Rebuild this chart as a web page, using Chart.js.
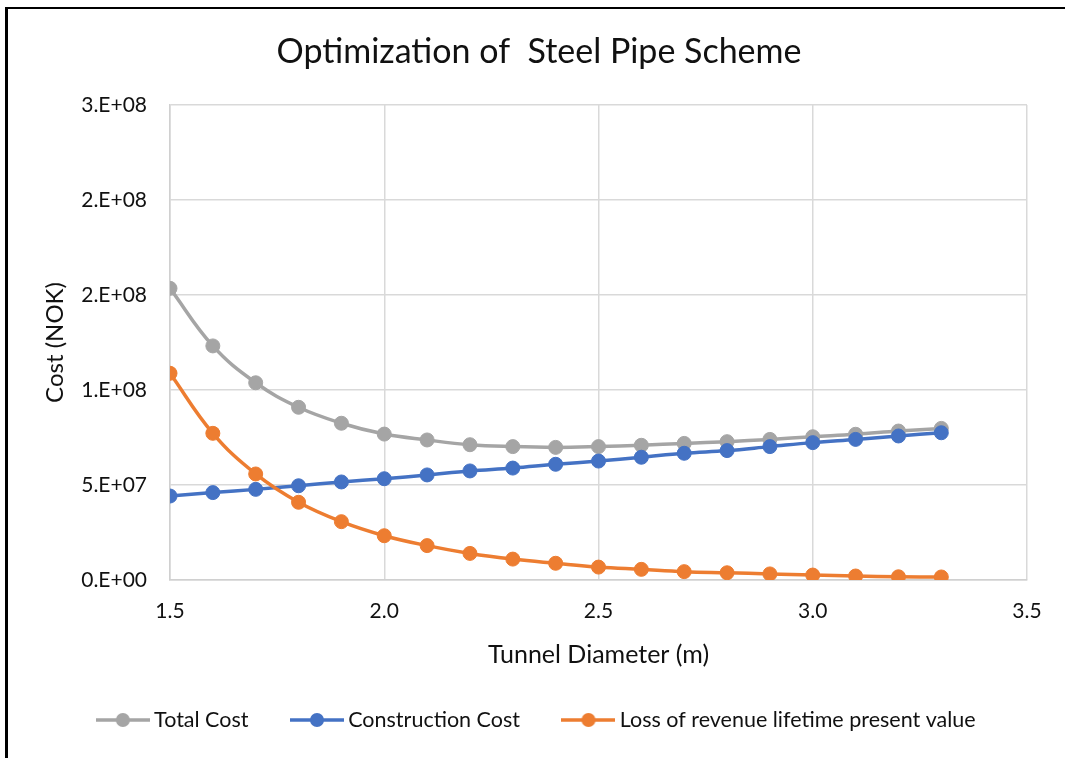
<!DOCTYPE html>
<html>
<head>
<meta charset="utf-8">
<title>Optimization of Steel Pipe Scheme</title>
<script src="https://cdn.jsdelivr.net/npm/chart.js@4.4.1/dist/chart.umd.min.js"></script>
<style>
  html, body { margin: 0; padding: 0; background: #fff; overflow: hidden; }
  #wrap { position: relative; width: 1065px; height: 758px; }
  #frame {
    position: absolute; left: 5px; top: 7px; width: 2000px; height: 2000px;
    border-left: 3px solid #000; border-top: 2px solid #000;
    pointer-events: none;
  }
  canvas { position: absolute; left: 0; top: 0; }
</style>
</head>
<body>
<div id="wrap">
  <canvas id="chart" width="1065" height="758"></canvas>
  <div id="frame"></div>
</div>
<script>
// Tunnel diameter (m) for each evaluated scheme
const diameters = [1.5, 1.6, 1.7, 1.8, 1.9, 2.0, 2.1, 2.2, 2.3, 2.4, 2.5, 2.6, 2.7, 2.8, 2.9, 3.0, 3.1, 3.2, 3.3];

// Costs in NOK
const totalCost = [1.535e8, 1.232e8, 1.038e8, 9.09e7, 8.25e7, 7.68e7, 7.37e7, 7.12e7, 7.02e7, 6.98e7,
                   7.02e7, 7.09e7, 7.19e7, 7.28e7, 7.40e7, 7.54e7, 7.67e7, 7.84e7, 7.98e7];
const constructionCost = [4.42e7, 4.60e7, 4.77e7, 4.96e7, 5.16e7, 5.33e7, 5.53e7, 5.74e7, 5.89e7, 6.09e7,
                          6.26e7, 6.46e7, 6.67e7, 6.81e7, 7.02e7, 7.23e7, 7.40e7, 7.58e7, 7.75e7];
const revenueLoss = [1.088e8, 7.72e7, 5.58e7, 4.09e7, 3.07e7, 2.33e7, 1.81e7, 1.40e7, 1.10e7, 8.8e6,
                     6.8e6, 5.6e6, 4.4e6, 3.8e6, 3.2e6, 2.6e6, 2.1e6, 1.7e6, 1.6e6];

// Axis tick labels (Excel "0.E+00" style)
const xTickLabels = ['1.5', '2.0', '2.5', '3.0', '3.5'];
const yTickLabels = ['0.E+00', '5.E+07', '1.E+08', '2.E+08', '2.E+08', '3.E+08'];

const seriesNames = ['Total Cost', 'Construction Cost', 'Loss of revenue lifetime present value'];
const seriesColors = ['#A5A5A5', '#4472C4', '#ED7D31'];

const FONT = 'Lato, "Open Sans", "Noto Sans", sans-serif';
const TEXT = '#111';

// Legend swatch: a short line with a round marker in the middle
function legendSwatch(color) {
  const c = document.createElement('canvas');
  c.width = 54; c.height = 16;
  const g = c.getContext('2d');
  g.strokeStyle = color; g.lineWidth = 3.5;
  g.beginPath(); g.moveTo(0, 8); g.lineTo(54, 8); g.stroke();
  g.fillStyle = color;
  g.beginPath(); g.arc(27, 8, 7, 0, Math.PI * 2); g.fill();
  return c;
}

function series(values, i, order) {
  return {
    label: seriesNames[i],
    data: diameters.map((d, k) => ({ x: d, y: values[k] })),
    borderColor: seriesColors[i],
    backgroundColor: seriesColors[i],
    pointBackgroundColor: seriesColors[i],
    pointBorderColor: seriesColors[i],
    pointStyle: 'circle',
    borderWidth: 3.5,
    pointRadius: 7,
    pointHoverRadius: 7,
    pointBorderWidth: 1,
    tension: 0.4,
    order: order
  };
}

// later series are drawn on top (lower order = drawn last)
const totalDs = series(totalCost, 0, 3);
const constructionDs = series(constructionCost, 1, 2);
const lossDs = series(revenueLoss, 2, 1);

Chart.defaults.font.family = FONT;
Chart.defaults.color = TEXT;

new Chart(document.getElementById('chart'), {
  type: 'line',
  data: { datasets: [totalDs, constructionDs, lossDs] },
  options: {
    responsive: false,
    animation: false,
    events: [],
    layout: { padding: { left: 51, right: 38, top: 0, bottom: 17.25 } },
    plugins: {
      title: {
        display: true,
        text: 'Optimization of  Steel Pipe Scheme',
        color: TEXT,
        font: { size: 34, weight: 'normal', family: FONT },
        padding: { top: 31.8, bottom: 32.4 }
      },
      legend: {
        position: 'bottom',
        labels: {
          color: TEXT,
          font: { size: 21.5, family: FONT },
          usePointStyle: true,
          pointStyleWidth: 41,
          padding: 48,
          generateLabels: (chart) => chart.data.datasets.map((ds, i) => ({
            text: ds.label,
            datasetIndex: i,
            pointStyle: legendSwatch(seriesColors[i]),
            fillStyle: seriesColors[i],
            strokeStyle: seriesColors[i],
            lineWidth: 0,
            hidden: false,
            fontColor: TEXT
          }))
        }
      },
      tooltip: { enabled: false }
    },
    scales: {
      x: {
        type: 'linear',
        min: 1.5, max: 3.5,
        ticks: {
          stepSize: 0.5,
          padding: 19,
          color: TEXT,
          font: { size: 21, family: FONT },
          callback: (v, i) => xTickLabels[i]
        },
        grid: { color: '#D9D9D9', lineWidth: 1.5, drawTicks: false },
        border: { color: '#D0D0D0', width: 1.5 },
        title: {
          display: true,
          text: 'Tunnel Diameter (m)',
          color: TEXT,
          font: { size: 25, family: FONT },
          padding: { top: 0, bottom: -8.75 }
        },
        afterFit: (s) => { s.height = 81.25; }
      },
      y: {
        min: 0, max: 2.5e8,
        ticks: {
          stepSize: 5e7,
          padding: 23,
          color: TEXT,
          font: { size: 21, family: FONT },
          callback: (v, i) => yTickLabels[i]
        },
        grid: { color: '#D9D9D9', lineWidth: 1.5, drawTicks: false },
        border: { color: '#D0D0D0', width: 1.5 },
        title: {
          display: true,
          text: 'Cost (NOK)',
          color: TEXT,
          font: { size: 24, family: FONT },
          padding: { top: -10.5, bottom: 0 }
        },
        afterFit: (s) => { s.width = 119; }
      }
    }
  }
});
</script>
</body>
</html>
